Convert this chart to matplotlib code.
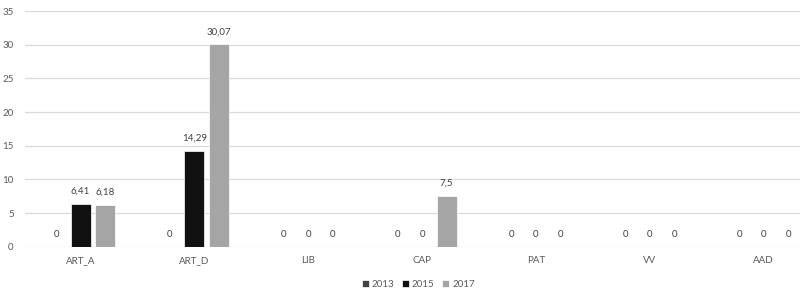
import numpy as np
import matplotlib
matplotlib.use('Agg')
import matplotlib.pyplot as plt

categories = ['ART_A', 'ART_D', 'LIB', 'CAP', 'PAT', 'VV', 'AAD']
years = ['2013', '2015', '2017']
vals_2013 = [0, 0, 0, 0, 0, 0, 0]
vals_2015 = [6.41, 14.29, 0, 0, 0, 0, 0]
vals_2017 = [6.18, 30.07, 0, 7.5, 0, 0, 0]
series = [vals_2013, vals_2015, vals_2017]
colors = ['#404040', '#111111', '#a5a5a5']

plt.rcParams['font.family'] = ['Lato', 'DejaVu Sans']

fig = plt.figure(figsize=(8, 2.93), dpi=100)
ax = fig.add_axes([0.031, 0.158, 0.969, 0.804])

x = np.arange(len(categories))
step = 0.215
width = 0.176

def fmt(v):
    s = f"{v:.2f}".rstrip('0').rstrip('.')
    return s.replace('.', ',')

for i, (vals, col, yr) in enumerate(zip(series, colors, years)):
    pos = x + (i - 1) * step
    ax.bar(pos, vals, width=width, color=col, edgecolor='white', linewidth=0.5,
           label=yr, zorder=3)
    for p, v in zip(pos, vals):
        ax.text(p, v + 1.2, fmt(v), ha='center', va='bottom', fontsize=7,
                color='#404040')

ax.set_ylim(0, 35)
ax.set_xlim(-0.49, 6.32)
ax.set_yticks(range(0, 36, 5))
ax.set_xticks(x)
ax.set_xticklabels(categories)
ax.tick_params(axis='both', length=0, labelsize=7, colors='#595959')
ax.tick_params(axis='x', pad=7)
ax.tick_params(axis='y', pad=8)
ax.grid(True, axis='y', color='#d9d9d9', linewidth=0.9, zorder=0)
for s in ax.spines.values():
    s.set_visible(False)

fig.legend(loc='center', bbox_to_anchor=(0.523, 0.03), ncol=3, frameon=False,
           fontsize=7, handlelength=0.7, handleheight=0.7, handletextpad=0.3,
           columnspacing=0.8, labelcolor='#595959')

fig.savefig('out.png', dpi=100)
